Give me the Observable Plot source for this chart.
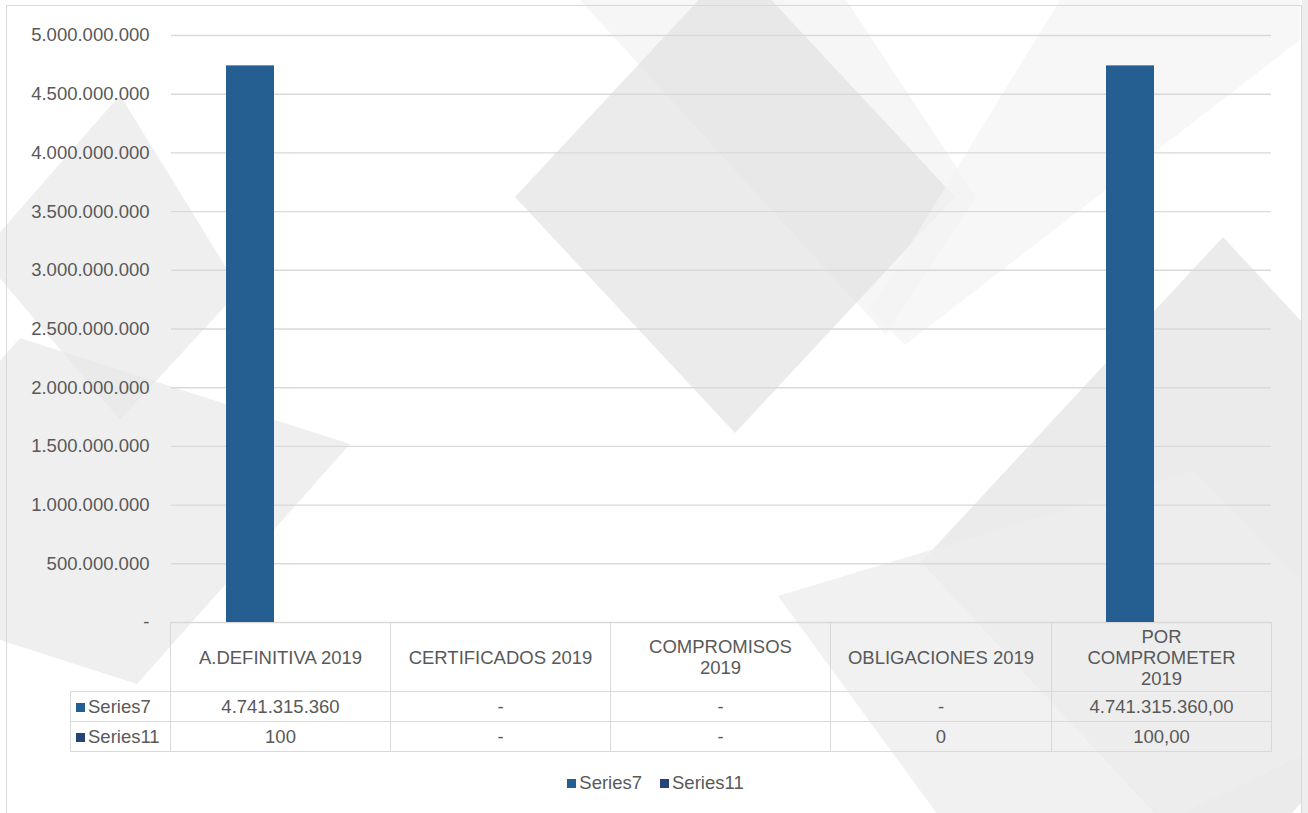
<!DOCTYPE html>
<html>
<head>
<meta charset="utf-8">
<script src="https://cdn.jsdelivr.net/npm/d3@7"></script>
<script src="https://cdn.jsdelivr.net/npm/@observablehq/plot@0.6"></script>
<style>
  html, body { margin: 0; padding: 0; background: #ffffff; }
  body { width: 1308px; height: 813px; position: relative; overflow: hidden;
         font-family: "Liberation Sans", Arial, sans-serif; color: #595959; }
  #bg { position: absolute; left: 0; top: 0; }
  #frame { position: absolute; left: 6px; top: 5px; width: 1296px; height: 820px;
           border: 1px solid #d9d9d9; box-sizing: border-box; }
  #chart { position: absolute; left: 0; top: 0; }
  #table { position: absolute; left: 70px; top: 622px; border-collapse: collapse;
           font-size: 18.5px; color: #595959; table-layout: fixed; }
  #table td { border: 1px solid #d9d9d9; text-align: center; padding: 0; line-height: 21px; }
  #table td.corner { border: none; border-right: 1px solid #d9d9d9; border-bottom: 1px solid #d9d9d9; }
  #table td.rowlabel { text-align: left; padding-left: 5px; white-space: nowrap; }
  #table tr.head td { height: 68px; white-space: pre-line; }
  #table tr.body td { height: 29px; }
  .sw { display: inline-block; width: 9px; height: 9px; margin-right: 3px; vertical-align: 1px; }
  #legend { position: absolute; top: 772px; left: 8px; width: 1295px; text-align: center;
            font-size: 18.5px; color: #595959; }
  #legend span.item { margin: 0 9px; white-space: nowrap; }
</style>
</head>
<body>
<svg id="bg" width="1308" height="813">
  <polygon points="735,-39 955,197 735,433 515,197" fill="#e9e9e9" opacity="0.9"/>
  <polygon points="580,0 886,335 976,197 820,-40 640,-40" fill="#e2e2e2" opacity="0.3"/>
  <polygon points="1060,0 1300,0 1300,40 905,345 870,310" fill="#f4f4f4" opacity="0.7"/>
  <polygon points="120,95 240,290 120,420 -20,255" fill="#e8e8e8" opacity="0.7"/>
  <polygon points="20,338 350,444 137,684 -193,578" fill="#e8e8e8" opacity="0.7"/>
  <polygon points="1223,237 1525,562 1223,887 921,562" fill="#e4e4e4" opacity="0.75"/>
  <polygon points="1193,471 1420,700 1000,900 778,596" fill="#ededed" opacity="0.8"/>
  <rect x="1302" y="0" width="6" height="813" fill="#eeeeee"/>
</svg>
<div id="frame"></div>
<div id="chart"></div>
<table id="table"></table>
<div id="legend"></div>
<script>
// ---- data ----
const categories = ["A.DEFINITIVA 2019", "CERTIFICADOS 2019", "COMPROMISOS 2019", "OBLIGACIONES 2019", "POR COMPROMETER 2019"];
const categoryLabels = ["A.DEFINITIVA 2019", "CERTIFICADOS 2019", "COMPROMISOS\n2019", "OBLIGACIONES 2019", "POR\nCOMPROMETER\n2019"];
const seriesNames = ["Series7", "Series11"];
const seriesColors = ["#255e91", "#264478"];
const series7 = [4741315360, 0, 0, 0, 4741315360];
const series11 = [100, 0, 0, 0, 100];
const series7Text = ["4.741.315.360", "-", "-", "-", "4.741.315.360,00"];
const series11Text = ["100", "-", "-", "0", "100,00"];
const yTicks = [0, 500000000, 1000000000, 1500000000, 2000000000, 2500000000, 3000000000, 3500000000, 4000000000, 4500000000, 5000000000];

// ---- build ----
const rows = [];
categories.forEach((c, i) => {
  rows.push({category: c, series: seriesNames[0], value: series7[i]});
  rows.push({category: c, series: seriesNames[1], value: series11[i]});
});
const loc = d3.formatLocale({decimal: ",", thousands: ".", grouping: [3], currency: ["", ""]});
const fmt = loc.format(",.0f");

const chart = Plot.plot({
  width: 1308,
  height: 660,
  marginLeft: 170,
  marginRight: 37,
  marginTop: 35,
  marginBottom: 38,
  style: {background: "transparent", overflow: "visible", fontFamily: "'Liberation Sans', Arial, sans-serif", fontSize: "18.5px", color: "#595959"},
  fx: {domain: categories, padding: 0, axis: null, label: null},
  x: {domain: seriesNames, paddingInner: 0, paddingOuter: 1.245, align: 0.443, axis: null, label: null},
  y: {domain: [0, 5000000000], ticks: yTicks, tickFormat: d => d === 0 ? "-" : fmt(d), tickSize: 0, tickPadding: 22, label: null},
  color: {domain: seriesNames, range: seriesColors},
  marks: [
    Plot.ruleY(yTicks, {stroke: "#d9d9d9", strokeWidth: 1.4, strokeOpacity: 1}),
    Plot.barY(rows, {fx: "category", x: "series", y: "value", fill: "series"})
  ]
});
document.getElementById("chart").appendChild(chart);

// ---- data table ----
const table = document.getElementById("table");
const colgroup = document.createElement("colgroup");
[100, 220, 220, 220, 221, 220].forEach(w => {
  const col = document.createElement("col"); col.style.width = w + "px"; colgroup.appendChild(col);
});
table.appendChild(colgroup);
const head = document.createElement("tr"); head.className = "head";
const corner = document.createElement("td"); corner.className = "corner"; head.appendChild(corner);
categoryLabels.forEach(l => { const td = document.createElement("td"); td.textContent = l; head.appendChild(td); });
table.appendChild(head);
[[seriesNames[0], series7Text, seriesColors[0]], [seriesNames[1], series11Text, seriesColors[1]]].forEach(([name, vals, col]) => {
  const tr = document.createElement("tr"); tr.className = "body";
  const lab = document.createElement("td"); lab.className = "rowlabel";
  lab.innerHTML = `<span class="sw" style="background:${col}"></span>${name}`;
  tr.appendChild(lab);
  vals.forEach(v => { const td = document.createElement("td"); td.textContent = v; tr.appendChild(td); });
  table.appendChild(tr);
});

// ---- legend ----
const legend = document.getElementById("legend");
seriesNames.forEach((s, i) => {
  const it = document.createElement("span"); it.className = "item";
  it.innerHTML = `<span class="sw" style="background:${seriesColors[i]}"></span>${s}`;
  legend.appendChild(it);
});
</script>
</body>
</html>
